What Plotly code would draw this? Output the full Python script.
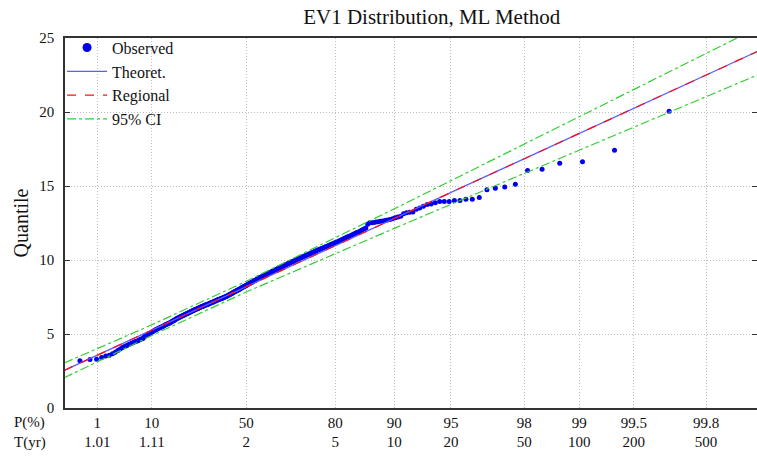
import numpy as np
import plotly.graph_objects as go

# ---------------- data ----------------
obs_q = [
    3.19, 3.27, 3.30, 3.42, 3.51, 3.57, 3.66, 3.77, 3.88, 3.99,
    4.08, 4.15, 4.21, 4.27, 4.33, 4.38, 4.42, 4.47, 4.51, 4.55,
    4.60, 4.64, 4.68, 4.72, 4.83, 4.88, 4.93, 4.98, 5.03, 5.07,
    5.11, 5.16, 5.20, 5.25, 5.29, 5.32, 5.35, 5.39, 5.42, 5.45,
    5.48, 5.51, 5.54, 5.58, 5.62, 5.65, 5.67, 5.70, 5.72, 5.75,
    5.78, 5.82, 5.85, 5.89, 5.92, 5.95, 5.99, 6.02, 6.06, 6.08,
    6.10, 6.13, 6.16, 6.18, 6.21, 6.23, 6.26, 6.29, 6.31, 6.34,
    6.36, 6.39, 6.41, 6.44, 6.46, 6.49, 6.51, 6.54, 6.56, 6.59,
    6.61, 6.63, 6.65, 6.67, 6.69, 6.71, 6.73, 6.75, 6.77, 6.80,
    6.82, 6.84, 6.86, 6.88, 6.90, 6.92, 6.94, 6.96, 6.98, 7.00,
    7.01, 7.03, 7.05, 7.07, 7.09, 7.11, 7.13, 7.15, 7.17, 7.19,
    7.21, 7.23, 7.25, 7.27, 7.29, 7.31, 7.33, 7.35, 7.37, 7.38,
    7.40, 7.42, 7.44, 7.46, 7.48, 7.50, 7.52, 7.54, 7.56, 7.58,
    7.61, 7.64, 7.67, 7.69, 7.72, 7.74, 7.77, 7.80, 7.82, 7.85,
    7.87, 7.90, 7.93, 7.95, 7.98, 8.01, 8.03, 8.06, 8.09, 8.11,
    8.14, 8.17, 8.19, 8.22, 8.25, 8.28, 8.30, 8.33, 8.36, 8.39,
    8.41, 8.44, 8.47, 8.49, 8.52, 8.55, 8.58, 8.61, 8.63, 8.66,
    8.71, 8.73, 8.76, 8.79, 8.81, 8.84, 8.87, 8.89, 8.92, 8.94,
    8.97, 9.00, 9.03, 9.05, 9.08, 9.11, 9.14, 9.16, 9.19, 9.22,
    9.25, 9.28, 9.31, 9.33, 9.36, 9.39, 9.42, 9.45, 9.47, 9.50,
    9.53, 9.56, 9.59, 9.62, 9.65, 9.68, 9.71, 9.74, 9.77, 9.80,
    9.83, 9.86, 9.89, 9.92, 9.96, 9.99, 10.02, 10.05, 10.08, 10.11,
    10.14, 10.17, 10.21, 10.24, 10.27, 10.30, 10.33, 10.36, 10.40, 10.43,
    10.46, 10.50, 10.53, 10.57, 10.60, 10.64, 10.67, 10.71, 10.74, 10.78,
    10.81, 10.85, 10.89, 10.92, 10.96, 11.00, 11.04, 11.08, 11.12, 11.16,
    11.20, 11.24, 11.29, 11.33, 11.38, 11.43, 11.48, 11.53, 11.58, 11.63,
    11.68, 11.74, 11.79, 11.85, 11.90, 11.96, 12.02, 12.09, 12.16, 12.42,
    12.51, 12.52, 12.54, 12.56, 12.58, 12.61, 12.64, 12.67, 12.70, 12.74,
    12.79, 12.85, 12.90, 12.96, 13.12, 13.19, 13.23, 13.25, 13.43, 13.52,
    13.63, 13.75, 13.79, 13.86, 13.95, 13.95, 13.95, 14.02, 14.02, 14.10,
    14.10, 14.23, 14.74, 14.85, 14.94, 15.11, 16.04, 16.14, 16.54, 16.64,
    17.42, 20.05,
]

# fitted curves, given at non-exceedance probabilities P(%)
curve_p = [0.09, 1, 10, 50, 80, 90, 95, 98, 99, 99.5, 99.8, 99.9]
theoret_q = [2.54, 3.57, 5.26, 8.20, 10.97, 12.80, 14.56, 16.84, 18.55, 20.25, 22.49, 24.19]
regional_q = [2.54, 3.57, 5.26, 8.20, 10.97, 12.80, 14.56, 16.84, 18.55, 20.25, 22.49, 24.19]
ci_upper = [3.04, 4.00, 5.62, 8.56, 11.49, 13.46, 15.36, 17.83, 19.69, 21.54, 23.97, 25.79]
ci_lower = [2.04, 3.14, 4.90, 7.84, 10.45, 12.14, 13.76, 15.85, 17.41, 18.96, 21.01, 22.59]

tick_p = [1, 10, 50, 80, 90, 95, 98, 99, 99.5, 99.8]
tick_p_text = ["1", "10", "50", "80", "90", "95", "98", "99", "99.5", "99.8"]
tick_t_text = ["1.01", "1.11", "2", "5", "10", "20", "50", "100", "200", "500"]


def reduced(p_percent):
    """Gumbel reduced variate (probability-paper axis transform)."""
    p = np.asarray(p_percent, dtype=float) / 100.0
    return -np.log(-np.log(p))


n = len(obs_q)
plot_pos = 100.0 * np.arange(1, n + 1) / (n + 1)   # Weibull plotting position
x_obs = reduced(plot_pos)
x_curve = reduced(curve_p)

FONT = "Liberation Serif"
W, H = 757, 458

fig = go.Figure()
fig.add_trace(go.Scatter(
    x=x_obs, y=obs_q, mode="markers", name="Observed", showlegend=False,
    marker=dict(color="#0000ee", size=5, line=dict(width=0)),
))
# legend entry for the observed points (larger symbol, as in the reference)
fig.add_trace(go.Scatter(
    x=[None], y=[None], mode="markers", name="Observed",
    marker=dict(color="#0000ee", size=9, line=dict(width=0)),
))
fig.add_trace(go.Scatter(
    x=x_curve, y=theoret_q, mode="lines", name="Theoret.",
    line=dict(color="#5c5cff", width=1.3),
))
fig.add_trace(go.Scatter(
    x=x_curve, y=regional_q, mode="lines", name="Regional",
    line=dict(color="#ff1010", width=1.2, dash="dash"),
))
fig.add_trace(go.Scatter(
    x=x_curve, y=ci_upper, mode="lines", name="95% CI",
    line=dict(color="#33cc33", width=1.2, dash="dashdot"),
    legendgroup="ci",
))
fig.add_trace(go.Scatter(
    x=x_curve, y=ci_lower, mode="lines", name="95% CI",
    line=dict(color="#33cc33", width=1.2, dash="dashdot"),
    legendgroup="ci", showlegend=False,
))

# white box behind the legend (hides the grid, keeps the axis line)
fig.add_shape(type="rect", xref="paper", yref="paper",
              x0=0.002, x1=0.163, y0=0.757, y1=0.997,
              fillcolor="white", line=dict(width=0), layer="between")

fig.update_layout(
    width=W, height=H,
    margin=dict(l=65, r=0, t=38, b=50, autoexpand=False),
    paper_bgcolor="white", plot_bgcolor="white",
    font=dict(family=FONT, size=15, color="#111111"),
    title=dict(text="EV1 Distribution, ML Method", x=431.7 / W, xanchor="center",
               y=1 - 16.5 / H, yanchor="middle", font=dict(size=21, family=FONT)),
    showlegend=True,
    legend=dict(x=-0.0043, y=1.02, xanchor="left", yanchor="top",
                bgcolor="rgba(0,0,0,0)", borderwidth=0, font=dict(size=16, family=FONT),
                itemwidth=40, tracegroupgap=0),
)

fig.update_xaxes(
    range=[-1.938, 6.862],
    tickmode="array",
    tickvals=reduced(tick_p),
    ticktext=[f"{a}<br>{b}" for a, b in zip(tick_p_text, tick_t_text)],
    showgrid=True, gridcolor="#bdbdbd", griddash="1px,2px", gridwidth=1,
    showline=True, linecolor="#333333", linewidth=1.5, mirror=True,
    ticks="", zeroline=False, automargin=False,
    tickfont=dict(size=15, family=FONT),
)
fig.update_yaxes(
    range=[0, 25],
    tickvals=[0, 5, 10, 15, 20, 25],
    showgrid=True, gridcolor="#bdbdbd", griddash="1px,2px", gridwidth=1,
    showline=True, linecolor="#333333", linewidth=1.5, mirror="allticks",
    ticks="inside", ticklen=5, tickcolor="#333333", ticklabelstandoff=6,
    zeroline=False, automargin=False,
    tickfont=dict(size=15, family=FONT),
    title=dict(text="Quantile", font=dict(size=20, family=FONT), standoff=5),
)

fig.add_annotation(text="P(%)", xref="paper", yref="paper", x=-0.0506, y=-0.0404,
                   xanchor="center", yanchor="middle", showarrow=False,
                   font=dict(size=15, family=FONT))
fig.add_annotation(text="T(yr)", xref="paper", yref="paper", x=-0.0506, y=-0.0943,
                   xanchor="center", yanchor="middle", showarrow=False,
                   font=dict(size=15, family=FONT))

# remove the browser's default 8px page margin so the figure fills the window
fig.write_html("out.html", config={"displayModeBar": False},
               post_script="document.body.style.margin='0';")
